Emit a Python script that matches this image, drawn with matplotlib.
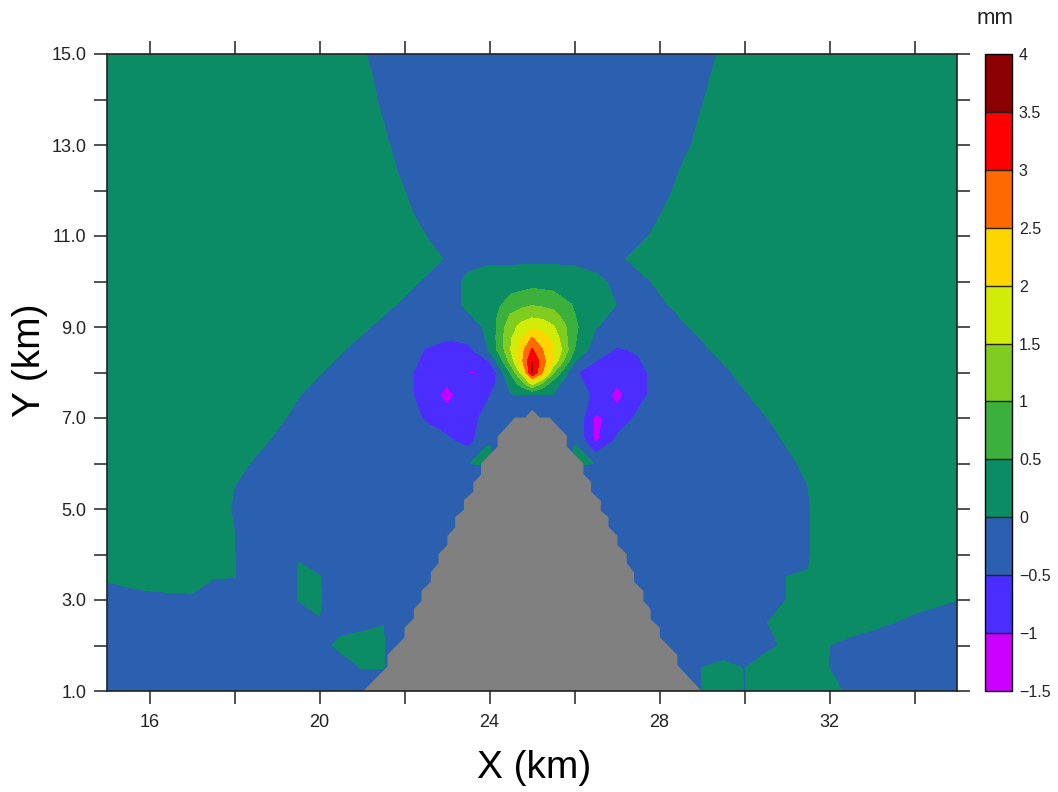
import numpy as np
import matplotlib
matplotlib.use('Agg')
import matplotlib.pyplot as plt
from matplotlib.colors import ListedColormap, BoundaryNorm

plt.rcParams['font.family'] = ['Liberation Sans', 'DejaVu Sans']

levels = [-1.5, -1, -0.5, 0, 0.5, 1, 1.5, 2, 2.5, 3, 3.5, 4]
level_labels = ['\u22121.5', '\u22121', '\u22120.5', '0', '0.5', '1', '1.5', '2', '2.5', '3', '3.5', '4']
colors = ['#cc00ff', '#4b2dff', '#2b5fb0', '#0b8c64', '#3cb03c', '#80cc20',
          '#d0ec08', '#ffd500', '#ff6a00', '#ff0000', '#8b0000']

x_km = np.arange(15, 35.5, 0.5)
y_km = np.arange(15, 0.5, -0.5)

# field, one row per y from 15 km down to 1 km
field = np.array([
    [.3,.3,.3,.3,.3,.3,.3,.3,.3,.3, .3,.3,.04,-.16,-.3,-.3,-.3,-.3,-.3,-.3, -.3,-.3,-.3,-.3,-.3,-.3,-.3,-.3,-.14,.06, .3,.3,.3,.3,.3,.3,.3,.3,.3,.3,.3],
    [.3,.3,.3,.3,.3,.3,.3,.3,.3,.3, .3,.3,.1,-.1,-.3,-.3,-.3,-.3,-.3,-.3, -.3,-.3,-.3,-.3,-.3,-.3,-.3,-.3,-.08,.12, .3,.3,.3,.3,.3,.3,.3,.3,.3,.3,.3],
    [.3,.3,.3,.3,.3,.3,.3,.3,.3,.3, .3,.3,.14,-.06,-.3,-.3,-.3,-.3,-.3,-.3, -.3,-.3,-.3,-.3,-.3,-.3,-.3,-.3,-.02,.18, .3,.3,.3,.3,.3,.3,.3,.3,.3,.3,.3],
    [.3,.3,.3,.3,.3,.3,.3,.3,.3,.3, .3,.3,.3,0,-.2,-.3,-.3,-.3,-.3,-.3, -.3,-.3,-.3,-.3,-.3,-.3,-.3,-.16,.04,.3, .3,.3,.3,.3,.3,.3,.3,.3,.3,.3,.3],
    [.3,.3,.3,.3,.3,.3,.3,.3,.3,.3, .3,.3,.3,.06,-.14,-.3,-.3,-.3,-.3,-.3, -.3,-.3,-.3,-.3,-.3,-.3,-.3,-.1,.1,.3, .3,.3,.3,.3,.3,.3,.3,.3,.3,.3,.3],
    [.3,.3,.3,.3,.3,.3,.3,.3,.3,.3, .3,.3,.3,.12,-.08,-.3,-.3,-.3,-.3,-.3, -.3,-.3,-.3,-.3,-.3,-.3,-.3,0,.2,.3, .3,.3,.3,.3,.3,.3,.3,.3,.3,.3,.3],
    [.3,.3,.3,.3,.3,.3,.3,.3,.3,.3, .3,.3,.3,.2,0,-.2,-.3,-.3,-.3,-.3, -.3,-.3,-.3,-.3,-.3,-.3,-.12,.08,.3,.3, .3,.3,.3,.3,.3,.3,.3,.3,.3,.3,.3],
    [.3,.3,.3,.3,.3,.3,.3,.3,.3,.3, .3,.3,.3,.3,.08,-.12,-.3,-.3,-.3,-.3, -.3,-.3,-.3,-.3,-.3,-.3,-.02,.18,.3,.3, .3,.3,.3,.3,.3,.3,.3,.3,.3,.3,.3],
    [.3,.3,.3,.3,.3,.3,.3,.3,.3,.3, .3,.3,.3,.3,.2,0,-.2,-.3,-.3,-.3, -.3,-.3,-.3,-.3,-.3,-.1,.1,.3,.3,.3, .3,.3,.3,.3,.3,.3,.3,.3,.3,.3,.3],
    [.3,.3,.3,.3,.3,.3,.3,.3,.3,.3, .3,.3,.3,.3,.3,.16,-.04,-.15,-.1,-.1, -.1,-.1,-.1,-.1,-.08,.12,.3,.3,.3,.3, .3,.3,.3,.3,.3,.3,.3,.3,.3,.3,.3],
    [.3,.3,.3,.3,.3,.3,.3,.3,.3,.3, .3,.3,.3,.3,.14,-.06,-.2,.1,.25,.25, .3,.28,.22,.06,-.06,-.12,.08,.3,.3,.3, .3,.3,.3,.3,.3,.3,.3,.3,.3,.3,.3],
    [.3,.3,.3,.3,.3,.3,.3,.3,.3,.3, .3,.3,.3,.12,-.08,-.3,-.1,.05,.2,.7, .95,.8,.45,.25,-.01,-.2,-.08,.12,.3,.3, .3,.3,.3,.3,.3,.3,.3,.3,.3,.3,.3],
    [.3,.3,.3,.3,.3,.3,.3,.3,.3,.3, .3,.3,.08,-.12,-.3,-.25,-.3,-.1,.05,1.4, 1.95,1.6,.6,.01,-.1,-.25,-.3,-.08,.12,.3, .3,.3,.3,.3,.3,.3,.3,.3,.3,.3,.3],
    [.3,.3,.3,.3,.3,.3,.3,.3,.3,.3, .3,.04,-.16,-.3,-.3,-.52,-.65,-.65,.05,1.9, 3.2,2.0,.5,-.3,-.55,-.45,-.3,-.2,-.08,.12, .3,.3,.3,.3,.3,.3,.3,.3,.3,.3,.3],
    [.3,.3,.3,.3,.3,.3,.3,.3,.3,.3, .02,-.18,-.3,-.3,-.4,-.65,-.8,-1.01,-1.01,.5, 3.7,1.15,-.45,-.7,-.8,-.65,-.3,-.3,-.2,-.08, .12,.3,.3,.3,.3,.3,.3,.3,.3,.3,.3],
    [.3,.3,.3,.3,.3,.3,.3,.3,.3,.02, -.18,-.3,-.3,-.3,-.35,-.7,-1.15,-.7,-.52,-.02, -.1,-.02,-.25,-.6,-1.15,-.65,-.3,-.3,-.3,-.3, -.04,.16,.3,.3,.3,.3,.3,.3,.3,.3,.3],
    [.3,.3,.3,.3,.3,.3,.3,.3,.08,-.12, -.3,-.3,-.3,-.3,-.3,-.55,-.8,-.7,-.3,-.2, -.2,-.2,-.05,-1.1,-.8,-.4,-.3,-.3,-.3,-.3, -.3,-.02,.18,.3,.3,.3,.3,.3,.3,.3,.3],
    [.3,.3,.3,.3,.3,.3,.3,.12,-.08,-.3, -.3,-.3,-.3,-.3,-.3,-.3,-.4,-.7,-.01,-.2, -.2,-.2,-.01,-1.1,-.4,-.3,-.3,-.3,-.3,-.3, -.3,-.16,.04,.3,.3,.3,.3,.3,.3,.3,.3],
    [.3,.3,.3,.3,.3,.3,.14,-.06,-.3,-.3, -.3,-.3,-.3,-.3,-.3,-.3,-.3,-.005,.05,-.2, -.2,-.2,.05,-.005,-.2,-.3,-.3,-.3,-.3,-.3, -.3,-.3,-.1,.1,.3,.3,.3,.3,.3,.3,.3],
    [.3,.3,.3,.3,.3,.2,0,-.2,-.3,-.3, -.3,-.3,-.3,-.3,-.3,-.3,-.3,-.3,-.4,-.3, -.3,-.3,-.4,-.3,-.3,-.3,-.3,-.3,-.3,-.3, -.3,-.3,-.2,0,.2,.3,.3,.3,.3,.3,.3],
    [.3,.3,.3,.3,.3,.16,-.04,-.3,-.3,-.3, -.3,-.3,-.3,-.3,-.3,-.3,-.3,-.3,-.3,-.3, -.3,-.3,-.3,-.3,-.3,-.3,-.3,-.3,-.3,-.3, -.3,-.3,-.3,-.02,.18,.3,.3,.3,.3,.3,.3],
    [.3,.3,.3,.3,.3,.2,0,-.2,-.3,-.3, -.3,-.3,-.3,-.3,-.3,-.3,-.3,-.3,-.3,-.3, -.3,-.3,-.3,-.3,-.3,-.3,-.3,-.3,-.3,-.3, -.3,-.3,-.3,-.02,.18,.3,.3,.3,.3,.3,.3],
    [.3,.3,.3,.3,.3,.2,.005,-.2,-.3,-.005, -.2,-.3,-.3,-.3,-.3,-.3,-.3,-.3,-.3,-.3, -.3,-.3,-.3,-.3,-.3,-.3,-.3,-.3,-.3,-.3, -.3,-.3,-.3,-.02,.18,.3,.3,.3,.3,.3,.3],
    [.05,.15,.3,.4,.47,.01,.005,-.2,-.3,.01, .02,-.45,-.3,-.3,-.3,-.3,-.3,-.3,-.3,-.3, -.3,-.3,-.3,-.3,-.3,-.3,-.3,-.3,-.3,-.3, -.3,-.3,.01,.01,.3,.3,.3,.3,.3,.3,.3],
    [-.2,-.2,-.2,-.2,-.2,-.2,-.2,-.2,-.2,.005, .05,-.45,-.3,-.3,-.3,-.3,-.3,-.3,-.3,-.3, -.3,-.3,-.3,-.3,-.3,-.3,-.3,-.3,-.3,-.3, -.3,-.3,.01,.3,.3,.3,.3,.3,.3,.1,0],
    [-.3,-.3,-.3,-.3,-.3,-.3,-.3,-.3,-.3,-.3, -.02,-.2,-.2,-.005,-.3,-.3,-.3,-.3,-.3,-.3, -.3,-.3,-.3,-.3,-.3,-.3,-.3,-.3,-.3,-.3, -.3,-.02,.2,.3,.3,.3,.1,0,-.2,-.23,-.3],
    [-.3,-.3,-.3,-.3,-.3,-.3,-.3,-.3,-.3,-.3, -.2,.13,.3,.03,-.4,-.3,-.3,-.3,-.3,-.3, -.3,-.3,-.3,-.3,-.3,-.3,-.3,-.3,-.3,-.2, -.2,-.2,.13,.3,-.005,-.2,-.21,-.3,-.3,-.3,-.3],
    [-.3,-.3,-.3,-.3,-.3,-.3,-.3,-.3,-.3,-.3, -.3,-.3,.01,.01,-.3,-.3,-.3,-.3,-.3,-.3, -.3,-.3,-.3,-.3,-.3,-.3,-.3,-.3,.005,.1, -.01,.39,.3,.3,-.01,-.3,-.3,-.3,-.3,-.3,-.3],
    [-.3,-.3,-.3,-.3,-.3,-.3,-.3,-.3,-.3,-.3, -.3,-.3,-.3,-.3,-.3,-.3,-.3,-.3,-.3,-.3, -.3,-.3,-.3,-.3,-.3,-.3,-.3,-.3,.01,.2, -.01,.2,.3,.3,.3,-.2,-.3,-.3,-.3,-.3,-.3],
])

# finer read of the plume centre, x 24-26 and y 9.5-7.5 km
x_core = np.arange(24, 26.25, 0.25)
y_core = np.arange(9.5, 7.25, -0.25)
core = np.array([
    [.2, .45, .7, .825, .95, .875, .8, .625, .45],
    [.12, .65, 1.05, 1.3, 1.4, 1.35, 1.2, .85, .52],
    [.05, .75, 1.3, 1.65, 1.9, 1.8, 1.55, 1.1, .6],
    [.05, .8, 1.45, 2.0, 2.55, 2.2, 1.85, 1.2, .55],
    [.05, .7, 1.5, 2.3, 3.05, 2.5, 2.05, 1.35, .5],
    [-.48, .3, 1.2, 2.35, 3.5, 2.7, 1.9, .95, .02],
    [-1.01, -.2, .55, 1.65, 3.55, 2.5, 1.05, .25, -.45],
    [-.76, -.3, .15, .7, 1.6, .85, .2, -.15, -.35],
    [-.52, -.27, -.02, -.06, -.1, -.06, -.02, -.13, -.25],
])

# outline of the terrain, stepped like the model grid
terrain_x = [21.03, 21.60, 21.60, 22.00, 22.00, 22.22, 22.22, 22.40, 22.40, 22.62, 22.62, 22.80, 22.80,
             23.01, 23.01, 23.19, 23.19, 23.40, 23.40, 23.62, 23.62, 23.80, 23.80, 24.19, 24.19, 24.60,
             24.84, 25.00, 25.19, 25.41, 25.82, 25.82, 26.21, 26.21, 26.39, 26.39, 26.62, 26.62, 26.80,
             26.80, 27.01, 27.01, 27.23, 27.23, 27.40, 27.40, 27.62, 27.62, 27.79, 27.79, 28.01, 28.01,
             28.42, 28.42, 28.99]
terrain_y = [1.00, 1.54, 1.79, 2.18, 2.39, 2.60, 2.80, 2.98, 3.20, 3.40, 3.61, 3.81, 4.01,
             4.21, 4.41, 4.59, 4.82, 4.99, 5.20, 5.38, 5.58, 5.75, 6.00, 6.37, 6.59, 7.01,
             7.01, 7.18, 7.01, 7.01, 6.61, 6.37, 6.00, 5.77, 5.60, 5.38, 5.18, 4.96, 4.82,
             4.61, 4.41, 4.21, 4.01, 3.81, 3.61, 3.40, 3.20, 2.98, 2.80, 2.58, 2.39, 2.18,
             1.79, 1.57, 1.00]

W, H = 1058, 792
fig = plt.figure(figsize=(W / 100, H / 100), dpi=100)
ax = fig.add_axes([107 / W, 1 - 691 / H, 850 / W, 637 / H])
cax = fig.add_axes([985 / W, 1 - 691 / H, 27 / W, 637 / H])

cmap = ListedColormap(colors)
norm = BoundaryNorm(levels, cmap.N)
cf = ax.contourf(x_km, y_km, field, levels=levels, cmap=cmap, norm=norm)
ax.contourf(x_core, y_core, core, levels=levels, cmap=cmap, norm=norm, zorder=2)
ax.fill(terrain_x, terrain_y, color='#808080', lw=0, zorder=3)

ax.set_xlim(15, 35)
ax.set_ylim(1, 15)
ax.set_xticks([16, 18, 20, 22, 24, 26, 28, 30, 32, 34])
ax.set_xticklabels(['16', '', '20', '', '24', '', '28', '', '32', ''])
ax.set_yticks(np.arange(1, 16))
ax.set_yticklabels(['1.0', '', '3.0', '', '5.0', '', '7.0', '', '9.0', '', '11.0', '', '13.0', '', '15.0'])
ax.tick_params(which='major', direction='out', length=9.5, width=1.1, top=True, right=True,
               labelsize=13, color='#222222', labelcolor='#222222')
ax.tick_params(axis='x', pad=7)
ax.tick_params(axis='y', pad=5.5)
for s in ax.spines.values():
    s.set_linewidth(1.2)
    s.set_color('#222222')
    s.set_zorder(5)
ax.set_xlabel('X (km)', fontsize=28, va='center')
ax.xaxis.set_label_coords(0.502, -0.121)
ax.set_ylabel('Y (km)', fontsize=28, va='center')
ax.yaxis.set_label_coords(-0.091, 0.52)

cb = fig.colorbar(cf, cax=cax, ticks=levels, drawedges=True, spacing='uniform')
cb.ax.set_yticklabels(level_labels)
cb.ax.tick_params(length=0, labelsize=11.5, pad=5, colors='#222222')
cb.outline.set_linewidth(1)
cb.dividers.set_linewidth(1)
cb.dividers.set_color('#222222')
fig.text(995 / W, 1 - 18 / H, 'mm', fontsize=16, ha='center', va='center', color='#222222')

fig.savefig('out.png', dpi=100)
